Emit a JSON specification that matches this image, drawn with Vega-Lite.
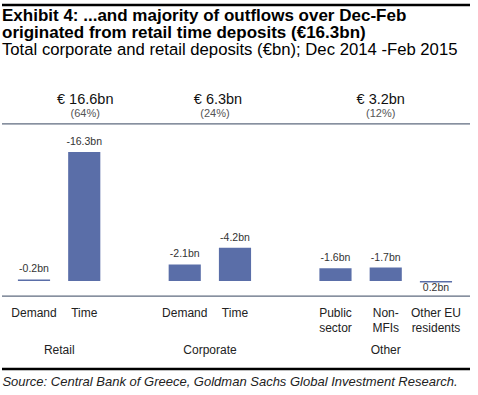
{
  "$schema": "https://vega.github.io/schema/vega-lite/v6.json",
  "width": 468,
  "height": 395,
  "autosize": {"type": "none"},
  "padding": {"top": 0, "left": 2, "right": 8, "bottom": 0},
  "background": "white",
  "config": {"font": "Liberation Sans", "view": {"stroke": null}},
  "title": {
    "text": ["Exhibit 4: ...and majority of outflows over Dec-Feb", "originated from retail time deposits (€16.3bn)"],
    "subtitle": "Total corporate and retail deposits (€bn); Dec 2014 -Feb 2015",
    "anchor": "start",
    "frame": "group",
    "font": "Liberation Sans",
    "fontSize": 17,
    "fontWeight": "bold",
    "color": "#000000",
    "lineHeight": 17.5,
    "subtitleFont": "Liberation Sans",
    "subtitleFontSize": 16.7,
    "subtitleColor": "#000000",
    "subtitlePadding": 0,
    "offset": -60
  },
  "datasets": {
    "bars": [
      {"key": "R-Demand", "cat": "Demand", "group": "Retail", "value": -0.2, "label": "-0.2bn"},
      {"key": "R-Time", "cat": "Time", "group": "Retail", "value": -16.3, "label": "-16.3bn"},
      {"key": "C-Demand", "cat": "Demand", "group": "Corporate", "value": -2.1, "label": "-2.1bn"},
      {"key": "C-Time", "cat": "Time", "group": "Corporate", "value": -4.2, "label": "-4.2bn"},
      {"key": "O-Public", "cat": "Public\nsector", "group": "Other", "value": -1.6, "label": "-1.6bn"},
      {"key": "O-NonMFI", "cat": "Non-\nMFIs", "group": "Other", "value": -1.7, "label": "-1.7bn"},
      {"key": "O-EU", "cat": "Other EU\nresidents", "group": "Other", "value": 0.2, "label": "0.2bn"}
    ],
    "groups": [
      {"key": "R-Time", "group": "Retail", "total": "€ 16.6bn", "share": "(64%)"},
      {"key": "C-Time", "group": "Corporate", "total": "€ 6.3bn", "share": "(24%)"},
      {"key": "O-NonMFI", "group": "Other", "total": "€ 3.2bn", "share": "(12%)"}
    ],
    "one": [{}]
  },
  "layer": [
    {
      "data": {"name": "bars"},
      "mark": {"type": "bar", "color": "#5a6ea8"},
      "encoding": {
        "x": {
          "field": "key", "type": "nominal", "axis": null,
          "scale": {
            "domain": ["R-Demand", "R-Time", "gap1", "C-Demand", "C-Time", "gap2", "O-Public", "O-NonMFI", "O-EU"],
            "paddingInner": 0.36, "paddingOuter": 0.337, "align": 0.47, "round": false
          }
        },
        "y": {
          "field": "value", "type": "quantitative", "axis": null,
          "scale": {"domain": [-35.52, 14.41], "reverse": true, "zero": false, "nice": false}
        }
      }
    },
    {
      "data": {"name": "bars"},
      "transform": [{"filter": "datum.value < 0"}],
      "mark": {"type": "text", "fontSize": 10.5, "color": "#333333", "baseline": "alphabetic", "dy": -7},
      "encoding": {
        "x": {"field": "key", "type": "nominal"},
        "y": {"field": "value", "type": "quantitative"},
        "text": {"field": "label"}
      }
    },
    {
      "data": {"name": "bars"},
      "transform": [{"filter": "datum.value > 0"}],
      "mark": {"type": "text", "fontSize": 10.5, "color": "#333333", "baseline": "alphabetic", "dy": 8},
      "encoding": {
        "x": {"field": "key", "type": "nominal"},
        "y": {"field": "value", "type": "quantitative"},
        "text": {"field": "label"}
      }
    },
    {
      "data": {"name": "bars"},
      "mark": {"type": "text", "fontSize": 12, "color": "#222222", "baseline": "alphabetic", "lineBreak": "\n", "lineHeight": 15},
      "encoding": {
        "x": {"field": "key", "type": "nominal"},
        "y": {"datum": 4.49, "type": "quantitative"},
        "text": {"field": "cat"}
      }
    },
    {
      "data": {"name": "groups"},
      "transform": [{"filter": "datum.group != 'Other'"}],
      "mark": {"type": "text", "fontSize": 12, "color": "#222222", "baseline": "alphabetic", "dx": -25},
      "encoding": {
        "x": {"field": "key", "type": "nominal"},
        "y": {"datum": 9.23, "type": "quantitative"},
        "text": {"field": "group"}
      }
    },
    {
      "data": {"name": "groups"},
      "transform": [{"filter": "datum.group == 'Other'"}],
      "mark": {"type": "text", "fontSize": 12, "color": "#222222", "baseline": "alphabetic"},
      "encoding": {
        "x": {"field": "key", "type": "nominal"},
        "y": {"datum": 9.23, "type": "quantitative"},
        "text": {"field": "group"}
      }
    },
    {
      "data": {"name": "groups"},
      "transform": [{"filter": "datum.group == 'Retail'"}],
      "layer": [
        {
          "mark": {"type": "text", "fontSize": 14.5, "color": "#111111", "baseline": "middle", "dx": 1},
          "encoding": {"x": {"field": "key", "type": "nominal"}, "y": {"datum": -22.85, "type": "quantitative"}, "text": {"field": "total"}}
        },
        {
          "mark": {"type": "text", "fontSize": 11, "color": "#555555", "baseline": "middle", "dx": 1},
          "encoding": {"x": {"field": "key", "type": "nominal"}, "y": {"datum": -21.05, "type": "quantitative"}, "text": {"field": "share"}}
        }
      ]
    },
    {
      "data": {"name": "groups"},
      "transform": [{"filter": "datum.group == 'Corporate'"}],
      "layer": [
        {
          "mark": {"type": "text", "fontSize": 14.5, "color": "#111111", "baseline": "middle", "dx": -17},
          "encoding": {"x": {"field": "key", "type": "nominal"}, "y": {"datum": -22.85, "type": "quantitative"}, "text": {"field": "total"}}
        },
        {
          "mark": {"type": "text", "fontSize": 11, "color": "#555555", "baseline": "middle", "dx": -20},
          "encoding": {"x": {"field": "key", "type": "nominal"}, "y": {"datum": -21.05, "type": "quantitative"}, "text": {"field": "share"}}
        }
      ]
    },
    {
      "data": {"name": "groups"},
      "transform": [{"filter": "datum.group == 'Other'"}],
      "layer": [
        {
          "mark": {"type": "text", "fontSize": 14.5, "color": "#111111", "baseline": "middle", "dx": -5},
          "encoding": {"x": {"field": "key", "type": "nominal"}, "y": {"datum": -22.85, "type": "quantitative"}, "text": {"field": "total"}}
        },
        {
          "mark": {"type": "text", "fontSize": 11, "color": "#555555", "baseline": "middle", "dx": -5},
          "encoding": {"x": {"field": "key", "type": "nominal"}, "y": {"datum": -21.05, "type": "quantitative"}, "text": {"field": "share"}}
        }
      ]
    },
    {
      "data": {"name": "one"},
      "mark": {"type": "rule", "color": "#000000", "strokeWidth": 2.5},
      "encoding": {"y": {"datum": -34.9, "type": "quantitative"}}
    },
    {
      "data": {"name": "one"},
      "mark": {"type": "rule", "color": "#5f6b7f", "strokeWidth": 1.2},
      "encoding": {"y": {"datum": -19.85, "type": "quantitative"}}
    },
    {
      "data": {"name": "one"},
      "mark": {"type": "rule", "color": "#5f6b7f", "strokeWidth": 1.2},
      "encoding": {"y": {"datum": 1.9, "type": "quantitative"}}
    },
    {
      "data": {"name": "one"},
      "mark": {"type": "rule", "color": "#000000", "strokeWidth": 2.5},
      "encoding": {"y": {"datum": 11.13, "type": "quantitative"}}
    },
    {
      "data": {"name": "one"},
      "mark": {"type": "text", "text": "Source: Central Bank of Greece, Goldman Sachs Global Investment Research.", "fontSize": 13, "fontStyle": "italic", "color": "#222222", "baseline": "alphabetic", "align": "center", "dx": -6},
      "encoding": {"y": {"datum": 13.21, "type": "quantitative"}}
    }
  ]
}
